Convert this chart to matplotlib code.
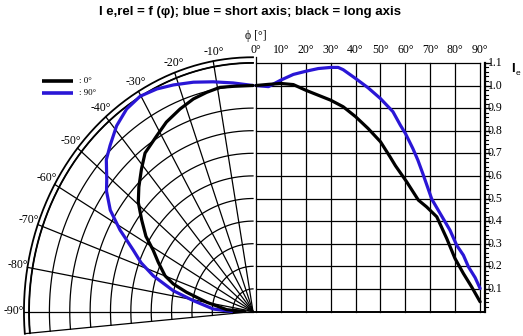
import numpy as np
import matplotlib.pyplot as plt

# right half: cartesian, angle phi [deg] -> relative intensity
blue_phi = [0, 5, 10, 15, 20, 25, 30, 33, 35, 40, 45, 50, 55, 58, 60, 63, 65, 67,
            70.6, 74, 77.9, 80.6, 83.3, 85.3, 88, 90]
blue_val = [1.0, 0.995, 1.024, 1.049, 1.063, 1.075, 1.08, 1.08, 1.07, 1.031, 0.99,
            0.942, 0.884, 0.824, 0.788, 0.721, 0.67, 0.61, 0.497, 0.433, 0.36,
            0.293, 0.249, 0.198, 0.15, 0.102]
black_phi = [0, 5, 10, 15, 20, 25, 30, 35, 40, 45, 50, 53.8, 56, 60.5, 65.2, 68.5,
             72.6, 76.6, 79.9, 83.3, 86.6, 90]
black_val = [1.0, 1.005, 1.009, 1.004, 0.979, 0.957, 0.935, 0.906, 0.862, 0.81,
             0.751, 0.685, 0.645, 0.574, 0.493, 0.463, 0.419, 0.323, 0.235, 0.168,
             0.109, 0.043]

# left half: polar, angle [deg] -> relative intensity
blue_th = [0, -5.5, -10.9, -16.1, -21.3, -25.6, -30.2, -34.7, -39.2, -43.7, -47,
           -50.8, -53.5, -57.4, -61.1, -65.2, -68.6, -72.1, -76.8, -80.7, -86.8, -90]
blue_r = [1.0, 1.016, 1.035, 1.056, 1.076, 1.092, 1.102, 1.09, 1.06, 1.016, 0.985,
          0.927, 0.895, 0.832, 0.746, 0.648, 0.59, 0.515, 0.402, 0.297, 0.195, 0.105]
black_th = [0, -5.5, -9.3, -13.2, -17.3, -21.8, -26.9, -31.3, -37.1, -41, -45.5,
            -49.4, -53.5, -57.7, -61, -64.9, -69.9, -72.7, -75.4, -79.8, -86.4, -90]
black_r = [1.0, 1.001, 1.005, 0.996, 0.985, 0.965, 0.94, 0.91, 0.879, 0.835, 0.786,
           0.742, 0.68, 0.622, 0.561, 0.514, 0.46, 0.41, 0.337, 0.231, 0.129, 0.04]

phi_ticks = np.arange(0, 91, 10)
int_ticks = np.round(np.arange(0.1, 1.11, 0.1), 1)
polar_angles = np.arange(-90, 0, 10)

BLUE = '#2a16d6'
SERIF = ['Liberation Serif', 'DejaVu Serif']

# pixel geometry of the drawing (center of polar part, scales)
CX, CY = 253.0, 311.5
SX, SY = 203.6, 226.0
X0R = 3.0 / SX          # offset of right grid
KR = 2.49 / SX          # per degree on the right grid
SPINE = (485 - CX) / SX


def pol(r, th):
    t = np.radians(np.asarray(th, float))
    r = np.asarray(r, float)
    return r * np.sin(t), r * np.cos(t)


def rx(phi):
    return X0R + np.asarray(phi, float) * KR


fig = plt.figure(figsize=(5.23, 3.36), dpi=100)
ax = fig.add_axes([0, 0, 1, 1])
ax.set_xlim(-CX / SX, (523 - CX) / SX)
ax.set_ylim((CY - 336) / SY, CY / SY)
ax.axis('off')

gl = dict(color='black', lw=0.9, zorder=1)

# polar grid
arc = np.linspace(-95, 0, 200)
for r in int_ticks:
    ax.plot(*pol(np.full_like(arc, r), arc), **gl)
ax.plot(*pol(np.full_like(arc, 1.1), arc), color='black', lw=1.3, zorder=1)
ax.plot(*pol(np.full_like(arc, 1.125), arc), color='black', lw=1.3, zorder=1)
for a in list(polar_angles) + [-95]:
    ax.plot(*pol([0, 1.125], [a, a]), **gl)
for a in polar_angles:
    x, y = pol(1.175, a + 0.6)
    ax.text(x, y - 2 / SY, f'{a}°', ha='center', va='center', fontsize=8.5,
            family=SERIF)

# right cartesian grid
for v in int_ticks:
    ax.plot([rx(0), rx(90)], [v, v], **gl)
ax.plot([0, SPINE], [0, 0], color='black', lw=1.4, zorder=1)
for p in phi_ticks:
    top = 1.125 if p == 0 else 1.1
    ax.plot([rx(p), rx(p)], [0, top], **gl)
    ax.text(rx(p), (CY - 50) / SY, f'{p}°', ha='center', va='center',
            fontsize=8.5, family=SERIF)

ax.plot([SPINE, SPINE], [0, 1.1], color='black', lw=1.6, zorder=1)
for v in np.arange(0.02, 1.101, 0.02):
    ax.plot([SPINE, SPINE + 3 / SX], [v, v], color='black', lw=0.8)
for v in int_ticks:
    ax.plot([SPINE, SPINE + 5 / SX], [v, v], color='black', lw=0.9)
    ax.text(SPINE + 3 / SX, v, f'{v:.1f}', ha='left', va='center',
            fontsize=8.5, family=SERIF)

# curves
ax.plot(*pol(blue_r, blue_th), color=BLUE, lw=2.3, zorder=3, solid_capstyle='round')
ax.plot(*pol(black_r, black_th), color='black', lw=2.3, zorder=4, solid_capstyle='round')
ax.plot(rx(blue_phi), blue_val, color=BLUE, lw=2.3, zorder=3, solid_capstyle='round')
ax.plot(rx(black_phi), black_val, color='black', lw=2.3, zorder=4, solid_capstyle='round')

# legend
lx0, lx1, ltx = (42 - CX) / SX, (73 - CX) / SX, (79 - CX) / SX
for label, col, py in [(': 0°', 'black', 80.5), (': 90°', BLUE, 92.5)]:
    yy = (CY - py) / SY
    ax.plot([lx0, lx1], [yy, yy], color=col, lw=2.6, solid_capstyle='butt')
    ax.text(ltx, yy, label, ha='left', va='center', fontsize=6.5, family=SERIF)

# labels
ax.text((255.5 - CX) / SX, (CY - 36) / SY, 'ϕ [°]', ha='center', va='center',
        fontsize=8.5, family=SERIF)
ax.text((511 - CX) / SX, (CY - 69) / SY, 'I', ha='left', va='center',
        fontsize=9.5, fontweight='bold', family='Liberation Sans')
ax.text((516 - CX) / SX, (CY - 73) / SY, 'e', ha='left', va='center',
        fontsize=6, family='Liberation Sans')
ax.text((250 - CX) / SX, (CY - 12) / SY,
        'I e,rel = f (φ); blue = short axis; black = long axis',
        ha='center', va='center', fontsize=9.5, fontweight='bold',
        family='Liberation Sans')

fig.savefig('out.png', dpi=100)
